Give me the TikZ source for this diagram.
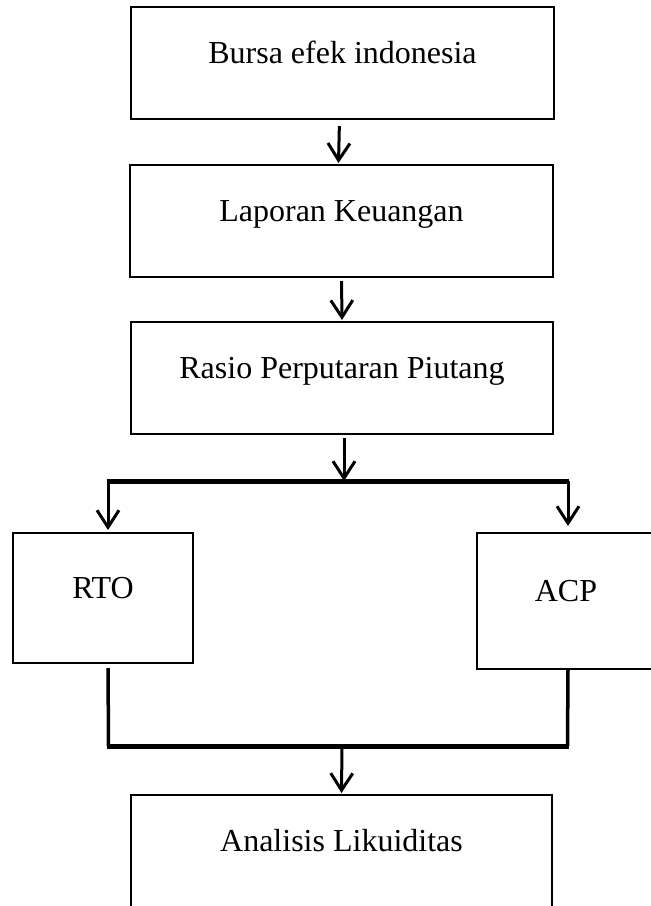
\documentclass[tikz,border=0pt]{standalone}
\usepackage{fontspec}
\setmainfont{Liberation Serif}
\usetikzlibrary{arrows.meta}
\begin{document}
\begin{tikzpicture}[x=1pt,y=-1pt,
  flowbox/.style={draw, line width=2pt, rectangle, inner sep=0pt,
    text height=0pt, text depth=0pt, font=\fontsize{32}{38}\selectfont},
  flowarrow/.style={line width=3pt, -{Straight Barb[length=17pt,width=22pt]}},
  busline/.style={line width=5pt},
  dropline/.style={line width=3.5pt}]
\useasboundingbox (0,0) rectangle (651,906);
\fill[white] (0,0) rectangle (651,906);
\node[flowbox, minimum width=423pt, minimum height=112pt] (b1) at (342.5,63) {Bursa efek indonesia};
\node[flowbox, minimum width=423pt, minimum height=112pt] (b2) at (341.5,221) {Laporan Keuangan};
\node[flowbox, minimum width=422pt, minimum height=112pt] (b3) at (342,378) {Rasio Perputaran Piutang};
\node[flowbox, minimum width=180pt, minimum height=130pt] (rto) at (103,598) {RTO};
\node[flowbox, minimum width=178pt, minimum height=136pt] (acp) at (566,601) {ACP};
\node[flowbox, minimum width=421pt, minimum height=112pt] (b5) at (341.5,851) {Analisis Likuiditas};
\coordinate (tbus) at (344,481);
\coordinate (tbusL) at (107,481);
\coordinate (tbusR) at (569,481);
\coordinate (bbusL) at (107,746);
\coordinate (bbusR) at (569,746);
\coordinate (bbus) at (342,746);
\draw[flowarrow, shorten <=6pt] ([xshift=-3pt]b1.south) -- ([xshift=-3pt, yshift=1pt]b2.north);
\draw[flowarrow, shorten <=3pt] (b2.south) -- ([yshift=1pt]b3.north);
\draw[flowarrow, shorten <=3pt] ([xshift=2pt]b3.south) -- (tbus);
\draw[busline] (tbusL) -- (tbusR);
\draw[flowarrow] ([xshift=1pt]tbusL) -- ([xshift=5pt, yshift=2pt]rto.north);
\draw[flowarrow] ([xshift=-1pt]tbusR) -- ([xshift=2pt, yshift=6pt]acp.north);
\draw[dropline, shorten <=4pt] ([xshift=5pt]rto.south) -- ([xshift=1.5pt]bbusL);
\draw[dropline] ([xshift=2pt]acp.south) -- ([xshift=-1.5pt]bbusR);
\draw[busline] (bbusL) -- (bbusR);
\draw[flowarrow] (bbus) -- ([yshift=1pt]b5.north);
\end{tikzpicture}
\end{document}
